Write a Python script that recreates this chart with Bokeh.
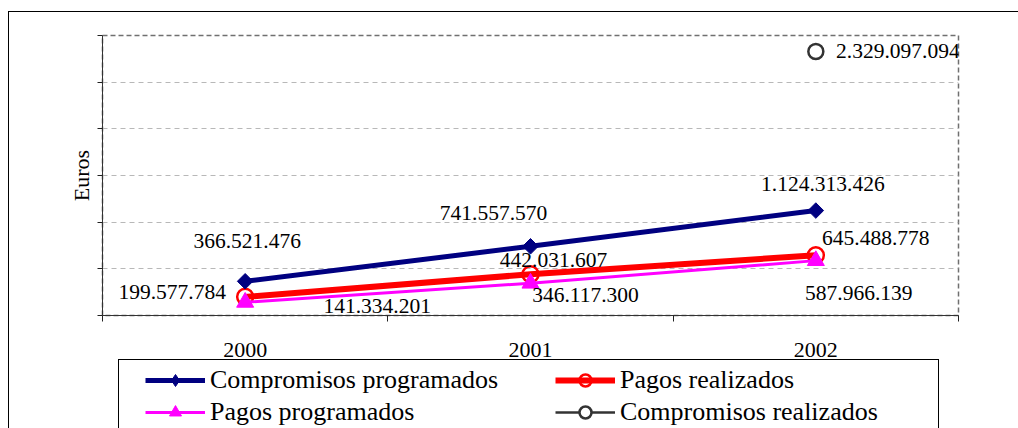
import math
from bokeh.plotting import figure
from bokeh.layouts import column
from bokeh.models import (Range1d, FixedTicker, Legend, LegendItem, ColumnDataSource,
                          InlineStyleSheet)
from bokeh.core.properties import value
from bokeh.embed import file_html
from bokeh.resources import INLINE

# ---------------- data ----------------
years = [2000, 2001, 2002]
compromisos_programados = [366521476, 741557570, 1124313426]
pagos_realizados = [199577784, 442031607, 645488778]
pagos_programados = [141334201, 346117300, 587966139]
compromisos_realizados_years = [2002]
compromisos_realizados = [2329097094]
y_ticks = [0, 500000000, 1000000000, 1500000000, 2000000000, 2500000000, 3000000000]
series_names = ["Compromisos programados", "Pagos realizados",
                "Pagos programados", "Compromisos realizados"]
y_axis_title = "Euros"

# label offsets in pixels (style only)
off_cp = ([2, -37, 7], [-40, -33, -27])
off_pr = ([-73, 23, 60], [-5, -14, -17])
off_pp = ([132, 55, 43], [4, 12, 32])
off_cr = ([82], [0])

SERIF = "Liberation Serif"

# series styles
ST_CP = dict(color="#000080", lw=5, marker="square", size=11, angle=math.pi / 4,
             mline="#000080", mfill="#000080", mlw=1)
ST_PR = dict(color="red", lw=6, marker="circle", size=16, angle=0,
             mline="red", mfill=None, mlw=2.5)
ST_PP = dict(color="#FF00FF", lw=3, marker="triangle", size=17, angle=0,
             mline="#FF00FF", mfill="#FF00FF", mlw=1)
ST_CR = dict(color="#333333", lw=2.5, marker="circle", size=15, angle=0,
             mline="#333333", mfill="white", mlw=2.5)


def fmt(v):
    return f"{v:,}".replace(",", ".")


def series(fig, xs, ys, st, y_range_name="default", **over):
    st = {**st, **over}
    l = fig.line(xs, ys, line_color=st["color"], line_width=st["lw"],
                 y_range_name=y_range_name)
    m = fig.scatter(xs, ys, marker=st["marker"], size=st["size"], angle=st["angle"],
                    line_color=st["mline"], fill_color=st["mfill"],
                    line_width=st["mlw"], y_range_name=y_range_name)
    return [l, m]


# chart-area frame and legend box drawn as page decoration
frame_css = InlineStyleSheet(css="""
:host { position: relative; }
:host::after { content: ""; position: absolute; left: 8px; top: 11px; right: 0; bottom: 0;
  border-left: 1px solid #000; border-top: 1px solid #000; pointer-events: none; z-index: 5; }
:host::before { content: ""; position: absolute; left: 118px; top: 359px; right: 79px; bottom: 0;
  border-left: 1px solid #000; border-top: 1px solid #000; border-right: 1px solid #000;
  pointer-events: none; z-index: 5; }
""")

p = figure(width=1018, height=364,
           x_range=Range1d(years[0] - 0.5, years[-1] + 0.5),
           y_range=Range1d(y_ticks[0], y_ticks[-1]),
           output_backend="svg", toolbar_location=None,
           min_border_left=102, min_border_right=60,
           min_border_top=35, min_border_bottom=49,
           background_fill_color="white", border_fill_color="white")
p.extra_y_ranges = {"sec": Range1d(0, 2470000000)}

# frame outline (top/right dashed)
p.outline_line_color = "#707070"
p.outline_line_dash = "5 3"
p.outline_line_width = 1.5

# grid
p.xgrid.visible = False
p.ygrid.ticker = FixedTicker(ticks=y_ticks)
p.ygrid.grid_line_color = "#b8b8b8"
p.ygrid.grid_line_dash = "5 4"
p.ygrid.grid_line_width = 1

# x axis
xa = p.xaxis[0]
xa.ticker = FixedTicker(ticks=years,
                        minor_ticks=[y - 0.5 for y in years] + [years[-1] + 0.5])
xa.major_label_overrides = {y: str(y) for y in years}
xa.major_tick_out = 0
xa.major_tick_in = 0
xa.minor_tick_out = 6
xa.minor_tick_in = 0
xa.minor_tick_line_color = "#222222"
xa.axis_line_color = "#333333"
xa.major_label_text_font = SERIF
xa.major_label_text_font_size = "22px"
xa.major_label_text_color = "black"
xa.major_label_standoff = 21

# y axis
ya = p.yaxis[0]
ya.ticker = FixedTicker(ticks=y_ticks)
ya.major_label_overrides = {t: "" for t in y_ticks}
ya.major_tick_out = 5
ya.major_tick_in = 0
ya.minor_tick_out = 0
ya.minor_tick_in = 0
ya.major_tick_line_color = "#222222"
ya.axis_line_color = "#333333"
ya.axis_label = y_axis_title
ya.axis_label_text_font = SERIF
ya.axis_label_text_font_size = "22px"
ya.axis_label_text_font_style = "normal"
ya.axis_label_text_color = "black"
ya.axis_label_standoff = 4

# ---------------- series ----------------
series(p, years, pagos_realizados, ST_PR)
series(p, years, pagos_programados, ST_PP)
series(p, years, compromisos_programados, ST_CP)
series(p, compromisos_realizados_years, compromisos_realizados, ST_CR, "sec")


def labels(xs, ys, offs, y_range_name="default"):
    src = ColumnDataSource(dict(x=xs, y=ys, t=[fmt(v) for v in ys],
                                dx=offs[0], dy=offs[1]))
    p.text(x="x", y="y", text="t", x_offset="dx", y_offset="dy", source=src,
           text_font=value(SERIF), text_font_size="21.5px", text_color="black",
           text_align="center", text_baseline="middle", y_range_name=y_range_name)


labels(years, compromisos_programados, off_cp)
labels(years, pagos_realizados, off_pr)
labels(years, pagos_programados, off_pp)
labels(compromisos_realizados_years, compromisos_realizados, off_cr, "sec")

# ---------------- legend (own strip below the chart) ----------------
pl = figure(width=1018, height=64, x_range=Range1d(0, 1), y_range=Range1d(-2, -1),
            output_backend="svg", toolbar_location=None,
            x_axis_location=None, y_axis_location=None, min_border=0,
            background_fill_color="white", border_fill_color="white")
pl.grid.visible = False
pl.outline_line_color = None
# legend proxies share the series data/styles (they fall outside this strip's range)
lg_cp = series(pl, years, compromisos_programados, ST_CP, marker="diamond",
               size=18, angle=0)
lg_pr = series(pl, years, pagos_realizados, ST_PR)
lg_pp = series(pl, years, pagos_programados, ST_PP)
lg_cr = series(pl, compromisos_realizados_years, compromisos_realizados, ST_CR)

legend = Legend(items=[
    LegendItem(label=series_names[0], renderers=lg_cp),
    LegendItem(label=series_names[2], renderers=lg_pp),
    LegendItem(label=series_names[1], renderers=lg_pr),
    LegendItem(label=series_names[3], renderers=lg_cr),
], location=(43, 1), orientation="vertical", nrows=2,
    glyph_width=60, glyph_height=30, label_height=30, label_width=343,
    label_standoff=5, spacing=2, padding=0, margin=0,
    border_line_alpha=0, background_fill_alpha=0,
    label_text_font=SERIF, label_text_font_size="26px", label_text_color="black")
pl.add_layout(legend)

page = column(p, pl, spacing=0, stylesheets=[frame_css])

open("out.html", "w").write(file_html(page, INLINE))
